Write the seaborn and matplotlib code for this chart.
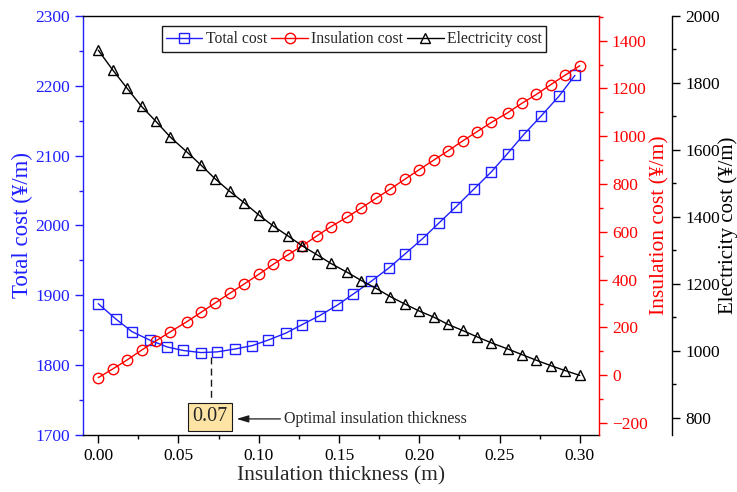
import matplotlib
matplotlib.use('Agg')
import matplotlib.pyplot as plt
import seaborn as sns
from matplotlib.ticker import MultipleLocator, FormatStrFormatter
from matplotlib.lines import Line2D

# ---------------- data ----------------
total_x = [0.000, 0.011, 0.021, 0.032, 0.043, 0.053, 0.064, 0.074, 0.085, 0.096,
           0.106, 0.117, 0.127, 0.138, 0.149, 0.159, 0.170, 0.181, 0.191, 0.202,
           0.212, 0.223, 0.234, 0.245, 0.255, 0.265, 0.276, 0.287, 0.297]
total_cost = [1888, 1866, 1848, 1836, 1826, 1821, 1818, 1819, 1823, 1828,
              1836, 1846, 1858, 1871, 1886, 1902, 1920, 1939, 1959, 1981,
              2003, 2027, 2052, 2077, 2103, 2130, 2157, 2185, 2215]

component_x = [0.000, 0.009, 0.018, 0.027, 0.036, 0.045, 0.055, 0.064, 0.073, 0.082,
               0.091, 0.100, 0.109, 0.118, 0.127, 0.136, 0.145, 0.155, 0.164, 0.173,
               0.182, 0.191, 0.200, 0.209, 0.218, 0.227, 0.236, 0.245, 0.255, 0.264,
               0.273, 0.282, 0.291, 0.300]
insulation_cost = [-10, 26, 64, 105, 144, 182, 223, 263, 303, 343,
                   382, 422, 464, 503, 541, 582, 622, 661, 700, 740,
                   779, 820, 860, 900, 939, 980, 1019, 1058, 1098, 1138,
                   1175, 1216, 1256, 1295]
electricity_cost = [1898, 1839, 1784, 1730, 1685, 1638, 1595, 1555, 1513, 1476,
                    1442, 1406, 1373, 1344, 1314, 1288, 1261, 1235, 1210, 1187,
                    1162, 1140, 1119, 1101, 1079, 1061, 1042, 1024, 1006, 989,
                    972, 956, 941, 927]

x_ticks = [0.00, 0.05, 0.10, 0.15, 0.20, 0.25, 0.30]
series_names = ['Total cost', 'Insulation cost', 'Electricity cost']
optimal_thickness = 0.07
optimal_label = '0.07'
annotation_text = 'Optimal insulation thickness'

# ---------------- style ----------------
sns.set_theme(style='ticks')
plt.rcParams['font.family'] = ['Liberation Serif', 'DejaVu Serif']
plt.rcParams['axes.linewidth'] = 1.0

BLUE = '#2020ff'
RED = '#ff0000'
BLACK = '#000000'

fig = plt.figure(figsize=(7.37, 4.92), dpi=100)
ax = fig.add_axes([0.1126, 0.1159, 0.7002, 0.8516])
ax2 = ax.twinx()
ax3 = ax.twinx()

mk = dict(markersize=7.5, markerfacecolor='none', markeredgewidth=1.0, linewidth=1.0)

sns.lineplot(x=total_x, y=total_cost, ax=ax, color=BLUE, marker='s',
             markeredgecolor=BLUE, legend=False, **mk)
sns.lineplot(x=component_x, y=insulation_cost, ax=ax2, color=RED, marker='o',
             markeredgecolor=RED, legend=False, **mk)
sns.lineplot(x=component_x, y=electricity_cost, ax=ax3, color=BLACK, marker='^',
             markeredgecolor=BLACK, legend=False, **mk)

# axes limits
ax.set_xlim(-0.0095, 0.312)
ax.set_ylim(1700, 2300)
ax2.set_ylim(-250, 1503)
ax3.set_ylim(749, 2000)

# x axis
ax.set_xticks(x_ticks)
ax.xaxis.set_major_formatter(FormatStrFormatter('%.2f'))
ax.xaxis.set_minor_locator(MultipleLocator(0.025))
ax.set_xlabel('Insulation thickness (m)', fontsize=15.5, labelpad=2)

# left axis
ax.yaxis.set_major_locator(MultipleLocator(100))
ax.yaxis.set_minor_locator(MultipleLocator(50))
ax.set_ylabel('Total cost (¥/m)', color=BLUE, fontsize=16.5, labelpad=2)

# red axis
ax2.yaxis.set_major_locator(MultipleLocator(200))
ax2.yaxis.set_minor_locator(MultipleLocator(100))
ax2.set_ylabel('Insulation cost (¥/m)', color=RED, fontsize=15.5, labelpad=2)

# black axis
ax3.spines['right'].set_position(('axes', 1.1415))
ax3.yaxis.set_major_locator(MultipleLocator(200))
ax3.yaxis.set_minor_locator(MultipleLocator(100))
ax3.set_ylabel('Electricity cost (¥/m)', color=BLACK, fontsize=15, labelpad=-1)

for a in (ax, ax2, ax3):
    a.tick_params(which='both', direction='out', width=1.0, labelsize=12.5)
    a.tick_params(which='major', length=5.8, pad=3.5)
    a.tick_params(which='minor', length=3)

ax.tick_params(axis='y', which='both', colors=BLUE, labelcolor=BLUE)
ax.tick_params(axis='x', which='both', colors=BLACK, top=False)
ax.spines['left'].set_color(BLUE)
ax.spines['right'].set_visible(False)
ax.spines['top'].set_color(BLACK)
ax.spines['bottom'].set_color(BLACK)

for a in (ax2, ax3):
    for s in ('left', 'top', 'bottom'):
        a.spines[s].set_visible(False)
ax2.spines['right'].set_color(RED)
ax2.tick_params(axis='y', which='both', colors=RED, labelcolor=RED)
ax3.spines['right'].set_color(BLACK)
ax3.tick_params(axis='y', which='both', colors=BLACK, labelcolor=BLACK)

# optimal annotation
ax.plot([optimal_thickness, optimal_thickness], [1812, 1751], color='k',
        linestyle=(0, (5, 3)), linewidth=1.0)
ax.text(optimal_thickness - 0.0004, 1726, optimal_label, fontsize=14.5,
        ha='center', va='center',
        bbox=dict(boxstyle='square,pad=0.22', facecolor='#fde4a4',
                  edgecolor='k', linewidth=0.8))
ax.annotate('', xy=(0.0862, 1723), xytext=(0.1135, 1723),
            arrowprops=dict(arrowstyle='-|>,head_length=0.6,head_width=0.18',
                            color='k', lw=0.9, shrinkA=0, shrinkB=0))
ax.text(0.1157, 1723, annotation_text, fontsize=11.5, ha='left', va='center')

# legend
handles = [
    Line2D([], [], color=BLUE, marker='s', markeredgecolor=BLUE, **mk),
    Line2D([], [], color=RED, marker='o', markeredgecolor=RED, **mk),
    Line2D([], [], color=BLACK, marker='^', markeredgecolor=BLACK, **mk),
]
leg = ax3.legend(handles, series_names, loc='upper center',
                 bbox_to_anchor=(0.525, 0.975), ncol=3, fontsize=11.3,
                 frameon=True, fancybox=False, edgecolor='k', framealpha=1,
                 handlelength=2.3, handletextpad=0.2, columnspacing=0.3,
                 borderpad=0.3, borderaxespad=0)
leg.get_frame().set_linewidth(1.0)

fig.savefig('out.png', dpi=100)
